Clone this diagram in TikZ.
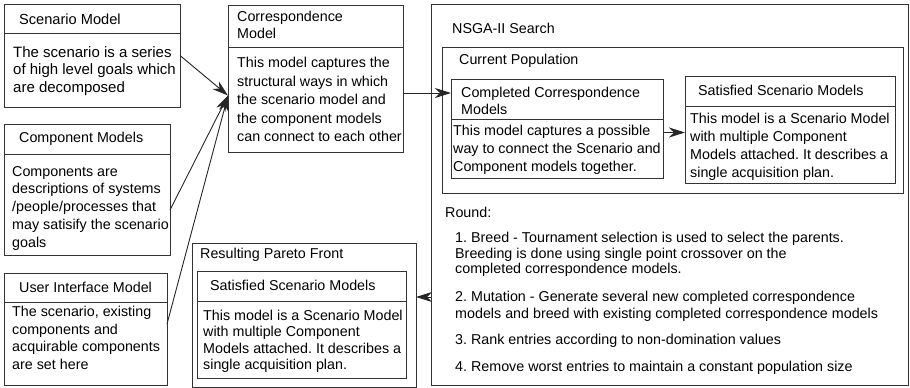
\documentclass[tikz,border=0pt]{standalone}
\usepackage{fontspec}
\setmainfont{Liberation Sans}
\usetikzlibrary{arrows.meta,calc}

\begin{document}
\frenchspacing
\begin{tikzpicture}[x=1pt,y=-1pt,
  frame/.style={draw=black!80, line width=1pt, anchor=north west, inner sep=0pt, outer sep=0pt},
  divider/.style={draw=black!80, line width=1pt},
  txt/.style={anchor=north west, inner sep=0pt, align=left, font=\fontsize{14.3}{17.8}\selectfont},
  head/.style={anchor=west, inner sep=0pt, font=\fontsize{14.3}{17}\selectfont},
  arr/.style={draw=black!85, line width=0.9pt, -{Stealth[length=16pt,width=10pt,inset=5pt]}}]

\useasboundingbox (0,0) rectangle (910,388);

% ---------- input models ----------
\node[frame, minimum width=176pt, minimum height=103pt] (scen) at (4,4) {};
\draw[divider] ([yshift=-29pt]scen.north west) -- ([yshift=-29pt]scen.north east);
\node[head, font=\fontsize{14.6}{17}\selectfont] (scenh) at (19,19) {Scenario Model};
\node[txt, font=\fontsize{15}{17.5}\selectfont] (scenb) at (13,46)
  {The scenario is a series\\of high level goals which\\are decomposed};

\node[frame, minimum width=166pt, minimum height=131pt] (comp) at (4,124) {};
\draw[divider] ([yshift=-30pt]comp.north west) -- ([yshift=-30pt]comp.north east);
\node[head] (comph) at (19,139) {Component Models};
\node[txt] (compb) at (12,166)
  {Components are\\descriptions of systems\\/people/processes that\\may satisify the scenario\\goals};

\node[frame, minimum width=163pt, minimum height=112pt] (ui) at (4,273) {};
\draw[divider] ([yshift=-29pt]ui.north west) -- ([yshift=-29pt]ui.north east);
\node[head] (uih) at (19,287) {User Interface Model};
\node[txt, font=\fontsize{14.3}{17.7}\selectfont] (uib) at (12,306)
  {The scenario, existing\\components and\\acquirable components\\are set here};

% ---------- correspondence model ----------
\node[frame, minimum width=175pt, minimum height=147pt] (corr) at (228,5) {};
\draw[divider] ([yshift=-42pt]corr.north west) -- ([yshift=-42pt]corr.north east);
\node[txt, font=\fontsize{14.3}{16.7}\selectfont] (corrh) at (237,11) {Correspondence\\Model};
\node[txt, font=\fontsize{14.3}{18.5}\selectfont] (corrb) at (237,57)
  {This model captures the\\structural ways in which\\the scenario model and\\the component models\\can connect to each other};

% ---------- NSGA-II search ----------
\node[frame, minimum width=477pt, minimum height=381pt] (nsga) at (431,4) {};
\node[head] (nsgah) at (452,28) {NSGA-II Search};

\node[frame, minimum width=461pt, minimum height=146pt] (pop) at (442,47) {};
\node[head] (poph) at (459,61) {Current Population};

\node[frame, minimum width=212pt, minimum height=99pt] (cc) at (451,79) {};
\draw[divider] ([yshift=-40pt]cc.north west) -- ([yshift=-40pt]cc.north east);
\node[txt, font=\fontsize{14.3}{17}\selectfont] (cch) at (461,87) {Completed Correspondence\\Models};
\node[txt, font=\fontsize{14.3}{18}\selectfont] (ccb) at (453,125)
  {This model captures a possible\\way to connect the Scenario and\\Component models together.};

\node[frame, minimum width=210pt, minimum height=107pt] (ss) at (685,76) {};
\draw[divider] ([yshift=-30pt]ss.north west) -- ([yshift=-30pt]ss.north east);
\node[head] (ssh) at (698,90) {Satisfied Scenario Models};
\node[txt, font=\fontsize{14.3}{18}\selectfont] (ssb) at (690,113)
  {This model is a Scenario Model\\with multiple Component\\Models attached. It describes a\\single acquisition plan.};

\node[head] (round) at (445,212) {Round:};
\node[txt, font=\fontsize{14.3}{15.5}\selectfont] (step1) at (455,232)
  {1. Breed - Tournament selection is used to select the parents.\\Breeding is done using single point crossover on the\\completed correspondence models.};
\node[txt, font=\fontsize{14.3}{17}\selectfont] (step2) at (455,291)
  {2. Mutation - Generate several new completed correspondence\\models and breed with existing completed correspondence models};
\node[head] (step3) at (455,341) {3. Rank entries according to non-domination values};
\node[head] (step4) at (455,368) {4. Remove worst entries to maintain a constant population size};

% ---------- resulting Pareto front ----------
\node[frame, minimum width=224pt, minimum height=144pt] (pareto) at (192,243) {};
\node[head] (paretoh) at (200,255) {Resulting Pareto Front};

\node[frame, minimum width=209pt, minimum height=107pt] (res) at (197,271) {};
\draw[divider] ([yshift=-30pt]res.north west) -- ([yshift=-30pt]res.north east);
\node[head] (resh) at (210,285) {Satisfied Scenario Models};
\node[txt, font=\fontsize{14.3}{16.3}\selectfont] (resb) at (203,310)
  {This model is a Scenario Model\\with multiple Component\\Models attached. It describes a\\single acquisition plan.};

% ---------- connectors ----------
\coordinate (corrin) at ([yshift=-17pt]corr.west);
\draw[arr] (scen.east) -- (corrin);
\draw[arr] ([yshift=-20.5pt]comp.east) -- (corrin);
\draw[arr] ([yshift=5pt]ui.east) -- (corrin);

\coordinate (ccin) at ([yshift=35.5pt]cc.west);
\draw[arr] (corr.east |- ccin) -- (ccin);

\coordinate (ccout) at ([yshift=-4pt]cc.east);
\draw[arr] (ccout) -- (ccout -| ss.west);

\coordinate (parin) at ([yshift=18pt]pareto.east);
\draw[arr] (nsga.west |- parin) -- (parin);
\end{tikzpicture}
\end{document}
